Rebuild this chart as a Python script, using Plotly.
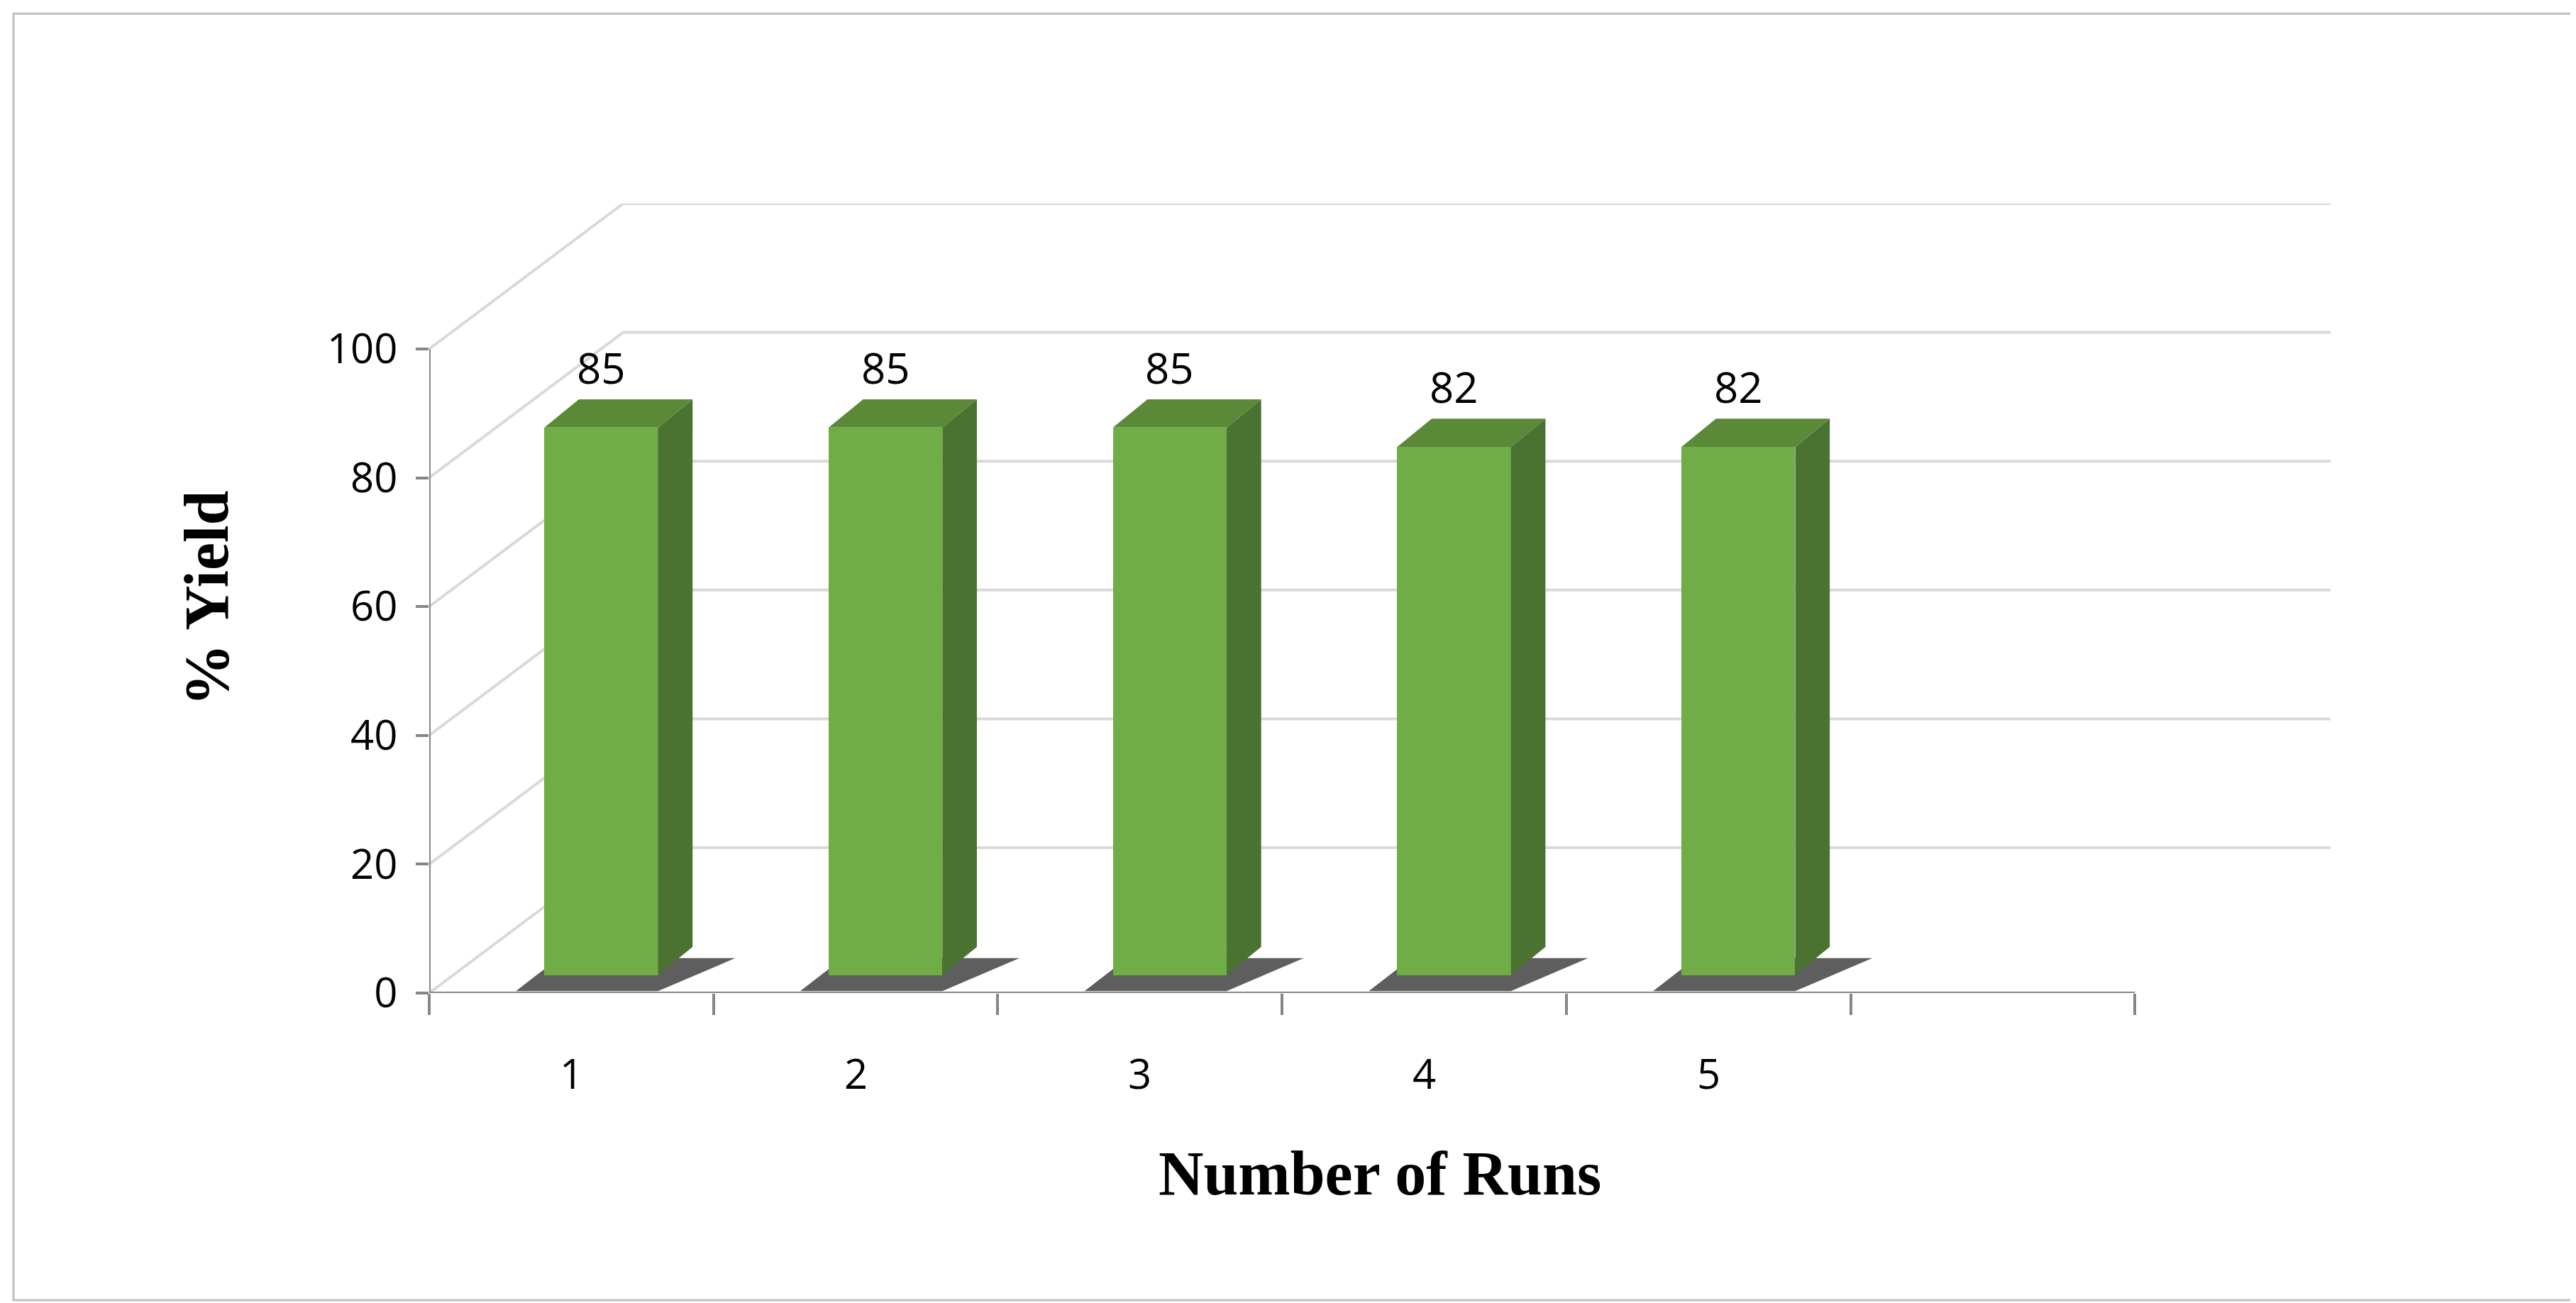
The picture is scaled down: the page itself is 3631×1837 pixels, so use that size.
import plotly.graph_objects as go

runs = ["1", "2", "3", "4", "5"]
yields = [85, 85, 85, 82, 82]
ytick_vals = [0, 20, 40, 60, 80, 100]

W, H = 3631, 1837
sx, sy = W / 1568, H / 789
L, R, T, B = 258, 1415, 120, 598
cat_px = 173.0
xr = [0.5, 0.5 + (R - L) / cat_px]
upx = 3.9
yr = [0, (B - T) / upx]
ddx = 118 / cat_px
ddy = 88 / upx

FRONT, SIDE, TOP = "#70AD47", "#4A7230", "#5A8A37"
GRID = "#D9D9D9"
AX = "#868686"

xs = [i + 1 for i in range(len(runs))]
shift, bw, base = 0.105, 0.40, 2.8
bdx, bdy = 21 / cat_px, 17 / upx

fig = go.Figure()
fig.add_trace(go.Bar(x=[x + shift for x in xs], y=yields, base=base, width=bw,
                     marker=dict(color=FRONT, line=dict(width=0)),
                     hoverinfo="skip", showlegend=False))

shapes = []
for v in ytick_vals:
    shapes.append(dict(type="line", xref="x", yref="y", x0=0.5, y0=v, x1=0.5 + ddx, y1=v + ddy,
                       line=dict(color=GRID, width=4), layer="below"))
    shapes.append(dict(type="line", xref="x", yref="y", x0=0.5 + ddx, y0=v + ddy, x1=xr[1], y1=v + ddy,
                       line=dict(color=GRID, width=4), layer="below"))
shapes.append(dict(type="line", xref="x", yref="y", x0=0.5, y0=0, x1=0.5, y1=100,
                   line=dict(color=AX, width=4)))
shapes.append(dict(type="line", xref="x", yref="y", x0=0.5, y0=0, x1=6.5, y1=0,
                   line=dict(color=AX, width=4)))
annotations = []
for x, v in zip(xs, yields):
    x0 = x + shift - bw / 2
    x1 = x + shift + bw / 2
    top = base + v
    shapes.append(dict(type="path", xref="x", yref="y", layer="below",
                       path=f"M {x0-0.1} {base-2.5} L {x1} {base-2.5} L {x1+bdx+0.15} {base+bdy*0.6} L {x0+0.05} {base+bdy*0.6} Z",
                       fillcolor="rgba(40,40,40,0.75)", line=dict(width=0)))
    shapes.append(dict(type="path", xref="x", yref="y",
                       path=f"M {x1} {base} L {x1+bdx} {base+bdy} L {x1+bdx} {top+bdy} L {x1} {top} Z",
                       fillcolor=SIDE, line=dict(width=0)))
    shapes.append(dict(type="path", xref="x", yref="y",
                       path=f"M {x0} {top} L {x0+bdx} {top+bdy} L {x1+bdx} {top+bdy} L {x1} {top} Z",
                       fillcolor=TOP, line=dict(width=0)))
    annotations.append(dict(x=x + shift, y=top + bdy, xref="x", yref="y", text=str(v),
                            showarrow=False, yanchor="bottom", yshift=2,
                            font=dict(family="Open Sans", size=60, color="black")))
for x, t in zip(xs, runs):
    annotations.append(dict(x=x, y=0, xref="x", yref="y", text=t, showarrow=False,
                            yanchor="middle", yshift=-112,
                            font=dict(family="Open Sans", size=58, color="black")))

def px_x(p): return (p - L) / (R - L)
def px_y(p): return (B - p) / (B - T)
shapes.append(dict(type="rect", xref="paper", yref="paper", x0=px_x(5), x1=px_x(1563),
                   y0=px_y(784), y1=px_y(5), line=dict(color="#BFBFBF", width=3)))

fig.update_layout(
    width=W, height=H, paper_bgcolor="white", plot_bgcolor="white",
    margin=dict(l=L * sx, r=(1568 - R) * sx, t=T * sy, b=(789 - B) * sy),
    shapes=shapes, annotations=annotations, bargap=0,
    xaxis=dict(range=xr, tickvals=[0.5 + k for k in range(7)], ticktext=[""] * 7,
               showgrid=False, zeroline=False, showline=False,
               ticks="outside", ticklen=30, tickwidth=4, tickcolor=AX,
               tickfont=dict(family="Open Sans", size=58, color="black"),
               title=dict(text="<b>Number of Runs</b>", standoff=180,
                          font=dict(family="Liberation Serif", size=88, color="black"))),
    yaxis=dict(range=yr, tickvals=ytick_vals, showgrid=False, zeroline=False, showline=False,
               ticks="outside", ticklen=18, tickwidth=4, tickcolor=AX, ticklabelstandoff=14,
               tickfont=dict(family="Open Sans", size=58, color="black"),
               title=dict(text="<b>% Yield</b>", standoff=110,
                          font=dict(family="Liberation Serif", size=88, color="black"))),
)
fig.write_html("out.html")
